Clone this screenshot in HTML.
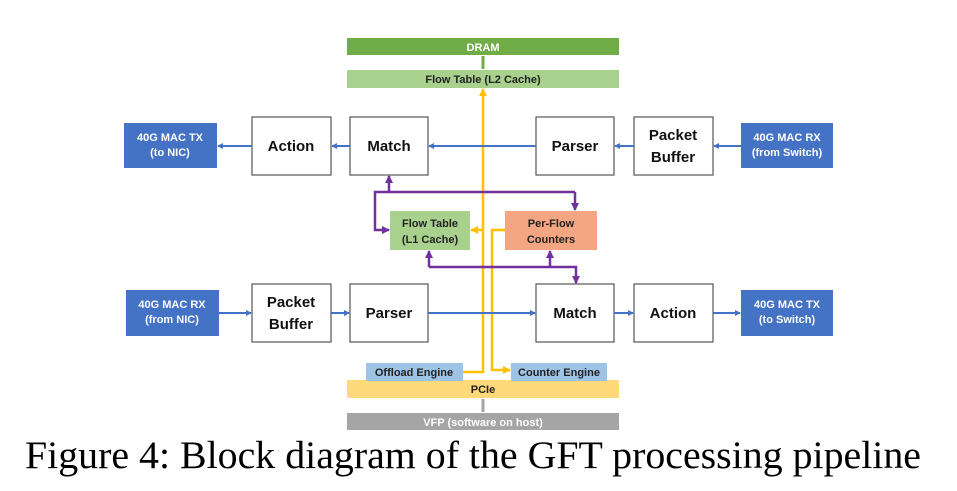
<!DOCTYPE html>
<html><head><meta charset="utf-8"><style>
html,body{margin:0;padding:0;background:#fff;}
svg{display:block;}
text{font-family:"Liberation Sans",sans-serif;font-weight:bold;text-anchor:middle;}
</style></head><body>
<svg width="957" height="491" viewBox="0 0 957 491" xmlns="http://www.w3.org/2000/svg">
<defs>
<marker id="ab" markerWidth="6" markerHeight="6" refX="5" refY="3" orient="auto" markerUnits="userSpaceOnUse"><path d="M0,0 L6,3 L0,6 z" fill="#4472c4"/></marker>
<marker id="ap" markerWidth="8" markerHeight="8" refX="7" refY="4" orient="auto" markerUnits="userSpaceOnUse"><path d="M0,0 L8,4 L0,8 z" fill="#7030a0"/></marker>
<marker id="ay" markerWidth="8" markerHeight="8" refX="7" refY="4" orient="auto" markerUnits="userSpaceOnUse"><path d="M0,0 L8,4 L0,8 z" fill="#ffc000"/></marker>
</defs>
<rect x="347" y="38" width="272" height="17" fill="#70ad47"/>
<text x="483" y="51" font-size="11" fill="#fff">DRAM</text>
<rect x="347" y="70" width="272" height="18" fill="#a9d18e"/>
<text x="483" y="83" font-size="11" fill="#222">Flow Table (L2 Cache)</text>
<path d="M483 56 V69" stroke="#70ad47" stroke-width="3"/>
<rect x="347" y="380" width="272" height="18" fill="#ffd97a"/>
<text x="483" y="393" font-size="11" fill="#222">PCIe</text>
<rect x="347" y="413" width="272" height="17" fill="#a5a5a5"/>
<text x="483" y="426" font-size="11" fill="#fff">VFP (software on host)</text>
<path d="M483 399 V412" stroke="#a5a5a5" stroke-width="3"/>
<rect x="366" y="363" width="97" height="18" fill="#9dc3e6"/>
<text x="414" y="376" font-size="11" fill="#222">Offload Engine</text>
<rect x="511" y="363" width="96" height="18" fill="#9dc3e6"/>
<text x="559" y="376" font-size="11" fill="#222">Counter Engine</text>
<path d="M463 372 H483 V89" stroke="#ffc000" stroke-width="2.5" fill="none" marker-end="url(#ay)"/>
<path d="M483 230 H471" stroke="#ffc000" stroke-width="2.5" fill="none" marker-end="url(#ay)"/>
<path d="M505 230 H492 V370 H510" stroke="#ffc000" stroke-width="2.5" fill="none" marker-end="url(#ay)"/>
<g fill="#fff" stroke="#555" stroke-width="1.2">
<rect x="252" y="117" width="79" height="58"/><rect x="350" y="117" width="78" height="58"/>
<rect x="536" y="117" width="78" height="58"/><rect x="634" y="117" width="79" height="58"/>
<rect x="252" y="284" width="79" height="58"/><rect x="350" y="284" width="78" height="58"/>
<rect x="536" y="284" width="78" height="58"/><rect x="634" y="284" width="79" height="58"/>
</g>
<g font-size="15" fill="#111">
<text x="291" y="151">Action</text><text x="389" y="151">Match</text>
<text x="575" y="151">Parser</text><text x="673" y="140">Packet</text><text x="673" y="162">Buffer</text>
<text x="291" y="307">Packet</text><text x="291" y="329">Buffer</text><text x="389" y="318">Parser</text>
<text x="575" y="318">Match</text><text x="673" y="318">Action</text>
</g>
<g fill="#4472c4">
<rect x="124" y="123" width="93" height="45"/><rect x="741" y="123" width="92" height="45"/>
<rect x="126" y="290" width="93" height="46"/><rect x="741" y="290" width="92" height="46"/>
</g>
<g font-size="11" fill="#fff">
<text x="170" y="141">40G MAC TX</text><text x="170" y="156">(to NIC)</text>
<text x="787" y="141">40G MAC RX</text><text x="787" y="156">(from Switch)</text>
<text x="172" y="308">40G MAC RX</text><text x="172" y="323">(from NIC)</text>
<text x="787" y="308">40G MAC TX</text><text x="787" y="323">(to Switch)</text>
</g>
<g stroke="#4472c4" stroke-width="2" fill="none" marker-end="url(#ab)">
<path d="M741 146 H714"/><path d="M634 146 H615"/><path d="M536 146 H429"/><path d="M350 146 H332"/><path d="M252 146 H218"/>
<path d="M219 313 H251"/><path d="M331 313 H349"/><path d="M428 313 H535"/><path d="M614 313 H633"/><path d="M713 313 H740"/>
</g>
<rect x="390" y="211" width="80" height="39" fill="#a9d18e"/>
<text x="430" y="227" font-size="11" fill="#222">Flow Table</text><text x="430" y="243" font-size="11" fill="#222">(L1 Cache)</text>
<rect x="505" y="211" width="92" height="39" fill="#f4a582"/>
<text x="551" y="227" font-size="11" fill="#222">Per-Flow</text><text x="551" y="243" font-size="11" fill="#222">Counters</text>
<g stroke="#7030a0" stroke-width="2.5" fill="none">
<path d="M389 192 V176" marker-end="url(#ap)"/>
<path d="M575 192 H375 V230 H389" marker-end="url(#ap)"/>
<path d="M575 192 V210" marker-end="url(#ap)"/>
<path d="M429 267 V251" marker-end="url(#ap)"/>
<path d="M429 267 H576 V283" marker-end="url(#ap)"/>
<path d="M550 267 V251" marker-end="url(#ap)"/>
</g>
<text x="473" y="468" style="font-family:'Liberation Serif',serif;font-weight:normal;font-size:39px" fill="#000" textLength="896" lengthAdjust="spacingAndGlyphs">Figure 4: Block diagram of the GFT processing pipeline</text>
</svg>
</body></html>
